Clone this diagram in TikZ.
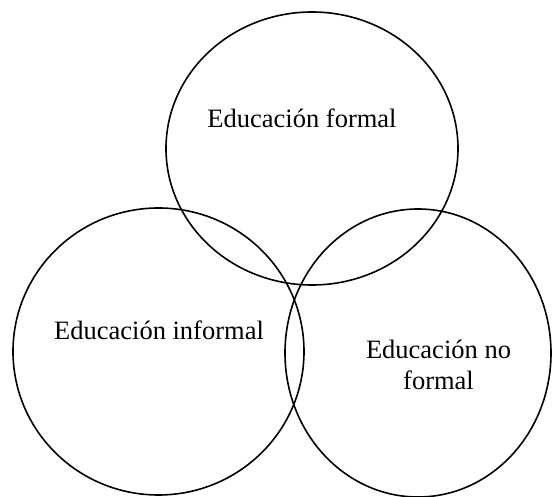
\documentclass[tikz,border=0pt]{standalone}
\usepackage{fontspec}
\setmainfont{Liberation Serif}
\begin{document}
\begin{tikzpicture}[x=1pt,y=1pt,
  ring/.style={draw=black,line width=1.6pt},
  lbl/.style={font=\fontsize{26.5}{31}\selectfont,align=center,inner sep=0pt}]
\useasboundingbox (0,0) rectangle (552,497);
\draw[ring] (312,348.5) ellipse [x radius=146,y radius=136.5];
\draw[ring] (158.5,145.5) ellipse [x radius=145.5,y radius=143.5];
\draw[ring] (418,144) ellipse [x radius=133,y radius=144];
\node[lbl] (formal) at (302,379) {Educación formal};
\node[lbl] (informal) at (159,167) {Educación informal};
\node[lbl] (noformal) at (438.5,132) {Educación no\\formal};
\end{tikzpicture}
\end{document}
